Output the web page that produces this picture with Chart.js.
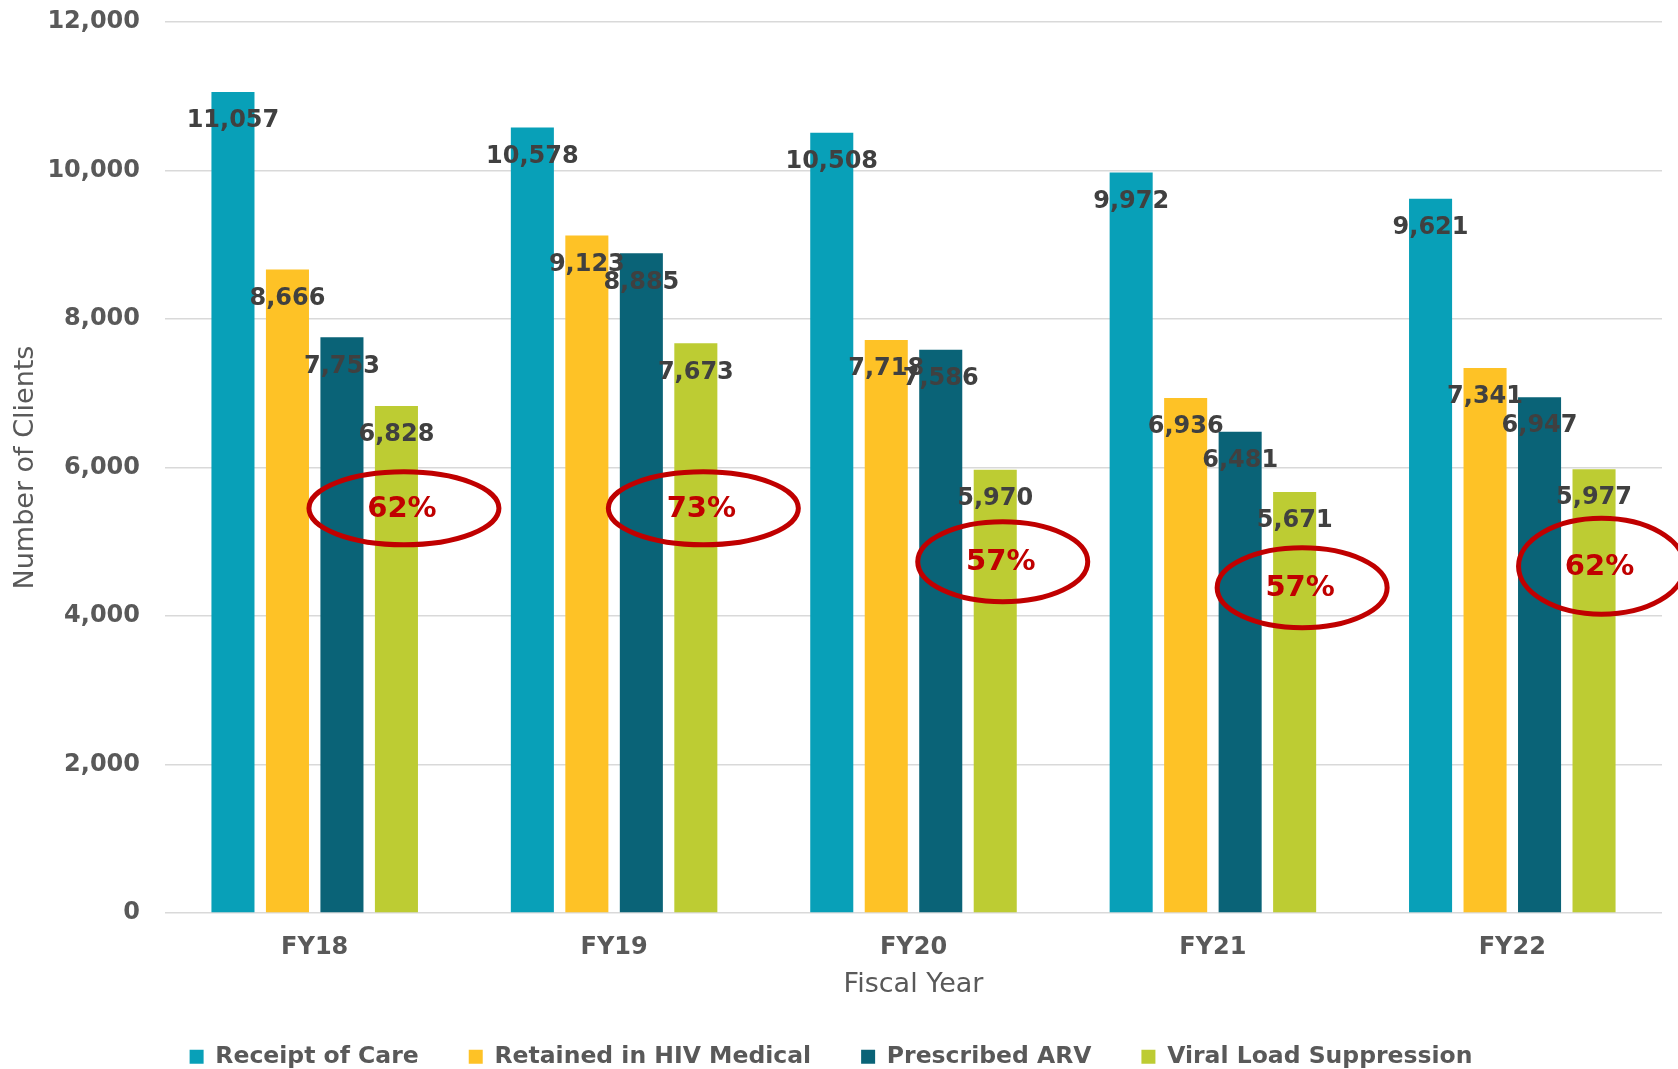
<!DOCTYPE html>
<html>
<head>
<meta charset="utf-8">
<title>Clients by Fiscal Year</title>
<script src="https://cdn.jsdelivr.net/npm/chart.js@4.4.1/dist/chart.umd.min.js"></script>
<style>
  html, body { margin: 0; padding: 0; background: #fff; }
  #wrap { width: 1678px; height: 1069px; position: relative; }
</style>
</head>
<body>
<div id="wrap"><canvas id="clientsChart"></canvas></div>
<script>
// ---- data ----
const years = ["FY18", "FY19", "FY20", "FY21", "FY22"];
const receiptOfCare = [11057, 10578, 10508, 9972, 9621];
const retainedInCare = [8666, 9123, 7718, 6936, 7341];
const prescribedARV = [7753, 8885, 7586, 6481, 6947];
const viralSuppression = [6828, 7673, 5970, 5671, 5977];
const yMax = 12000;
const yStep = 2000;

// red ovals: level (in clients) where each one sits, and its radii
const ringLevel = [5450, 5450, 4730, 4380, 4670];
const ringSize = [[95, 36.5], [95, 36.5], [85, 40], [85, 40], [83, 48]];

const grey = "#595959";
const red = "#C00000";
Chart.defaults.font.family = "'DejaVu Sans', Verdana, sans-serif";

// value labels sit a bit below the top of each bar
const valueLabels = {
  id: "valueLabels",
  afterDatasetsDraw(chart) {
    const ctx = chart.ctx;
    ctx.save();
    ctx.font = "bold 24px 'DejaVu Sans'";
    ctx.fillStyle = "#404040";
    ctx.textAlign = "center";
    ctx.textBaseline = "middle";
    chart.data.datasets.forEach((ds, di) => {
      chart.getDatasetMeta(di).data.forEach((bar, i) => {
        ctx.fillText(ds.data[i].toLocaleString("en-US"), bar.x, bar.y + 29);
      });
    });
    ctx.restore();
  }
};

// suppression rate (viral load / receipt of care) circled in red
const rateRings = {
  id: "rateRings",
  afterDatasetsDraw(chart) {
    const ctx = chart.ctx;
    const y = chart.scales.y;
    const bars = chart.getDatasetMeta(3).data;
    ctx.save();
    ctx.strokeStyle = red;
    ctx.lineWidth = 5;
    ctx.fillStyle = red;
    ctx.font = "bold 29px 'DejaVu Sans'";
    ctx.textAlign = "center";
    ctx.textBaseline = "middle";
    bars.forEach((bar, i) => {
      const cx = bar.x + 7.5;
      const cy = y.getPixelForValue(ringLevel[i]);
      ctx.beginPath();
      ctx.ellipse(cx, cy, ringSize[i][0], ringSize[i][1], 0, 0, Math.PI * 2);
      ctx.stroke();
      const pct = Math.round(viralSuppression[i] / receiptOfCare[i] * 100);
      ctx.fillText(pct + "%", cx - 2, cy + 1);
    });
    ctx.restore();
  }
};

const ctx = document.getElementById("clientsChart").getContext("2d");
const clientsChart = new Chart(ctx, {
  type: "bar",
  data: {
    labels: years,
    datasets: [
      { label: "Receipt of Care", data: receiptOfCare, backgroundColor: "#08A0B8" },
      { label: "Retained in HIV Medical", data: retainedInCare, backgroundColor: "#FEC226" },
      { label: "Prescribed ARV", data: prescribedARV, backgroundColor: "#0A6377" },
      { label: "Viral Load Suppression", data: viralSuppression, backgroundColor: "#BDCC33" }
    ]
  },
  options: {
    responsive: true,
    maintainAspectRatio: false,
    animation: false,
    datasets: {
      bar: { categoryPercentage: 0.728, barPercentage: 0.79 }
    },
    layout: { padding: { top: 22, right: 16, left: 0, bottom: 0 } },
    plugins: {
      legend: {
        position: "bottom",
        maxHeight: 74,
        labels: {
          boxWidth: 14,
          boxHeight: 14,
          padding: 50,
          color: grey,
          font: { size: 23.5, weight: "bold" }
        }
      },
      tooltip: { enabled: false }
    },
    scales: {
      x: {
        grid: { display: false },
        border: { display: false },
        ticks: { color: grey, padding: 12, font: { size: 24, weight: "bold", lineHeight: 1.2 } },
        title: {
          display: true,
          text: "Fiscal Year",
          color: grey,
          padding: { top: 0, bottom: 0 },
          font: { size: 27, lineHeight: 0.75 }
        },
        afterFit: (s) => { s.height = 82; }
      },
      y: {
        min: 0,
        max: yMax,
        grid: {
          color: "#d9d9d9",
          lineWidth: 1.5,
          drawTicks: true,
          tickLength: 22,
          tickColor: "rgba(0,0,0,0)"
        },
        border: { display: false },
        ticks: { stepSize: yStep, color: grey, padding: 3, font: { size: 24, weight: "bold" } },
        title: {
          display: true,
          text: "Number of Clients",
          color: grey,
          padding: { top: 10, bottom: 0 },
          font: { size: 27 }
        },
        afterFit: (s) => { s.width = 165; }
      }
    }
  },
  plugins: [valueLabels, rateRings]
});
</script>
</body>
</html>
